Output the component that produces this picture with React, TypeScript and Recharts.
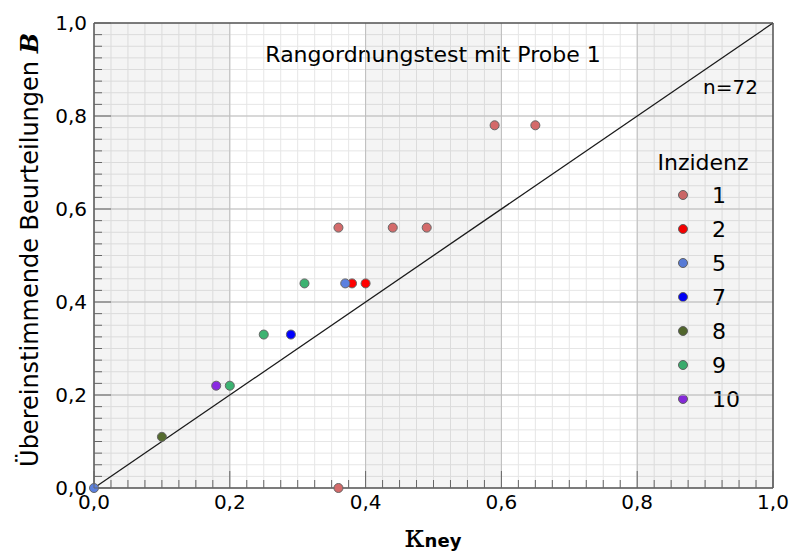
import React from "react";
import {
  ScatterChart,
  Scatter,
  XAxis,
  YAxis,
  CartesianGrid,
  ReferenceArea,
  ReferenceLine,
} from "recharts";

// Rangordnungstest, Probe 1: Cohen-kappa vs. share of matching judgements
const incidence1 = [
  { kappa: 0.36, agree: 0.56 },
  { kappa: 0.44, agree: 0.56 },
  { kappa: 0.49, agree: 0.56 },
  { kappa: 0.59, agree: 0.78 },
  { kappa: 0.65, agree: 0.78 },
  { kappa: 0.36, agree: 0.0 },
];
const incidence2 = [
  { kappa: 0.38, agree: 0.44 },
  { kappa: 0.4, agree: 0.44 },
];
const incidence5 = [
  { kappa: 0.37, agree: 0.44 },
  { kappa: 0.0, agree: 0.0 },
];
const incidence7 = [{ kappa: 0.29, agree: 0.33 }];
const incidence8 = [{ kappa: 0.1, agree: 0.11 }];
const incidence9 = [
  { kappa: 0.2, agree: 0.22 },
  { kappa: 0.25, agree: 0.33 },
  { kappa: 0.31, agree: 0.44 },
];
const incidence10 = [{ kappa: 0.18, agree: 0.22 }];

const groupNames = ["1", "2", "5", "7", "8", "9", "10"];
const groupColors = ["#d46a6a", "#ff0000", "#5b80e0", "#0000ff", "#556b2f", "#3cb371", "#8a2be2"];
const groupData = [incidence1, incidence2, incidence5, incidence7, incidence8, incidence9, incidence10];

const majorTicks = [0, 0.2, 0.4, 0.6, 0.8, 1];
const tickLabels = ["0,0", "0,2", "0,4", "0,6", "0,8", "1,0"];
const innerMajors = [0.2, 0.4, 0.6, 0.8];
const shadedBands = [
  [0, 0.2],
  [0.4, 0.6],
  [0.8, 1],
];

// minor ticks every 0.025
const gridTicks = Array.from({ length: 41 }, (_, i) => i / 40);

const W = 792;
const H = 555;
const FONT = "DejaVu Sans";
const TICK_COLOR = "#666";

const isMajor = (v: number) => Math.abs(v * 5 - Math.round(v * 5)) < 1e-6;
const labelFor = (v: number) => tickLabels[Math.round(v * 5)];
const tickLen = (v: number) => (isMajor(v) ? 17 : 8);

const BottomTick = (props: any) => {
  const { x, y, payload } = props;
  const v = payload.value;
  return (
    <g>
      <line x1={x} x2={x} y1={y} y2={y - tickLen(v)} stroke={TICK_COLOR} />
      {isMajor(v) && (
        <text x={x} y={y + 21} textAnchor="middle" fontSize={20} fontFamily={FONT} fill="#000">
          {labelFor(v)}
        </text>
      )}
    </g>
  );
};

const TopTick = (props: any) => {
  const { x, y, payload } = props;
  return <line x1={x} x2={x} y1={y} y2={y + tickLen(payload.value)} stroke={TICK_COLOR} />;
};

const LeftTick = (props: any) => {
  const { x, y, payload } = props;
  const v = payload.value;
  return (
    <g>
      <line x1={x} x2={x + tickLen(v)} y1={y} y2={y} stroke={TICK_COLOR} />
      {isMajor(v) && (
        <text x={x - 7} y={y + 7} textAnchor="end" fontSize={20} fontFamily={FONT} fill="#000">
          {labelFor(v)}
        </text>
      )}
    </g>
  );
};

const RightTick = (props: any) => {
  const { x, y, payload } = props;
  return <line x1={x} x2={x - tickLen(payload.value)} y1={y} y2={y} stroke={TICK_COLOR} />;
};

const frame = { stroke: "#555", strokeWidth: 1.5 };

export default function App() {
  return (
    <div style={{ position: "absolute", left: 0, top: 0, width: W, height: H, background: "#fff" }}>
      <ScatterChart width={W} height={H} margin={{ top: 0, right: 0, bottom: 0, left: 0 }}>
        <CartesianGrid stroke="#e6e6e6" />
        {shadedBands.map(([a, b]) => (
          <ReferenceArea
            key={`band-${a}`}
            x1={a}
            x2={b}
            y1={0}
            y2={1}
            fill="#000"
            fillOpacity={0.045}
            stroke="none"
          />
        ))}
        {innerMajors.map((v) => (
          <ReferenceLine key={`vx-${v}`} x={v} stroke="#bdbdbd" />
        ))}
        {innerMajors.map((v) => (
          <ReferenceLine key={`hy-${v}`} y={v} stroke="#bdbdbd" />
        ))}
        <ReferenceLine
          segment={[
            { x: 0, y: 0 },
            { x: 1, y: 1 },
          ]}
          stroke="#1a1a1a"
          strokeWidth={1.3}
        />

        <XAxis
          dataKey="kappa"
          type="number"
          domain={[0, 1]}
          ticks={gridTicks}
          interval={0}
          height={67}
          tickSize={0}
          tickMargin={0}
          tickLine={false}
          axisLine={frame}
          tick={BottomTick}
        />
        <XAxis
          xAxisId="top"
          orientation="top"
          type="number"
          domain={[0, 1]}
          ticks={gridTicks}
          interval={0}
          height={23}
          tickSize={0}
          tickMargin={0}
          tickLine={false}
          axisLine={frame}
          tick={TopTick}
        />
        <YAxis
          dataKey="agree"
          type="number"
          domain={[0, 1]}
          ticks={gridTicks}
          interval={0}
          width={94}
          tickSize={0}
          tickMargin={0}
          tickLine={false}
          axisLine={frame}
          tick={LeftTick}
        />
        <YAxis
          yAxisId="right"
          orientation="right"
          type="number"
          domain={[0, 1]}
          ticks={gridTicks}
          interval={0}
          width={19}
          tickSize={0}
          tickMargin={0}
          tickLine={false}
          axisLine={frame}
          tick={RightTick}
        />

        {groupData.map((d, i) => (
          <Scatter
            key={groupNames[i]}
            name={groupNames[i]}
            data={d}
            fill={groupColors[i]}
            stroke="#666"
            strokeWidth={1}
            isAnimationActive={false}
          />
        ))}

        <text x={433} y={62} textAnchor="middle" fontSize={22} fontFamily={FONT} fill="#000">
          Rangordnungstest mit Probe 1
        </text>
        <text x={758} y={94} textAnchor="end" fontSize={20} fontFamily={FONT} fill="#000">
          n=72
        </text>

        <g>
          <text x={703} y={170} textAnchor="middle" fontSize={22} fontFamily={FONT} fill="#000">
            Inzidenz
          </text>
          {groupNames.map((name, i) => (
            <g key={`leg-${name}`}>
              <circle cx={683} cy={195 + i * 34} r={4.5} fill={groupColors[i]} stroke="#666" />
              <text x={712} y={203 + i * 34} fontSize={22} fontFamily={FONT} fill="#000">
                {name}
              </text>
            </g>
          ))}
        </g>

        <text
          x={38}
          y={250}
          transform="rotate(-90, 38, 250)"
          textAnchor="middle"
          fontSize={24}
          fontFamily={FONT}
          fill="#000"
        >
          Übereinstimmende Beurteilungen{" "}
          <tspan fontFamily="DejaVu Serif" fontStyle="italic" fontWeight="bold">
            B
          </tspan>
        </text>
        <text x={433} y={547} textAnchor="middle" fill="#000">
          <tspan fontFamily="DejaVu Serif" fontSize={32}>
            κ
          </tspan>
          <tspan fontFamily={FONT} fontSize={18} fontWeight="bold">
            ney
          </tspan>
        </text>
      </ScatterChart>
    </div>
  );
}
